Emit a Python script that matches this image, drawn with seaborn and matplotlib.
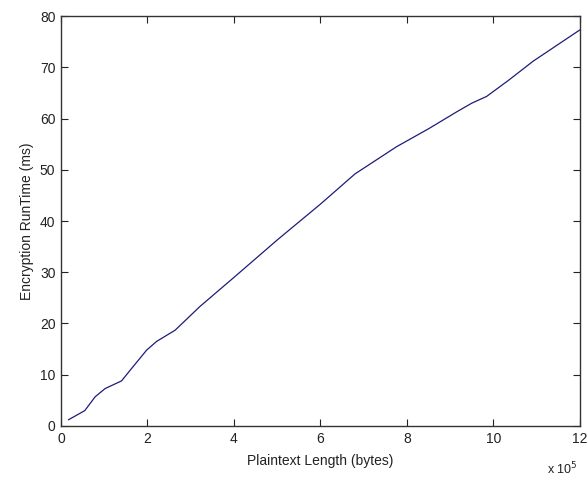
import pandas as pd
import matplotlib
matplotlib.use('Agg')
import matplotlib.pyplot as plt
import seaborn as sns

# valori (x in unita di 1e5 byte)
plaintext_len = [0.17, 0.55, 0.79, 1.02, 1.40, 1.63, 1.98, 2.21, 2.64, 3.21, 4.0, 5.0,
                 6.0, 6.8, 7.76, 8.5, 9.15, 9.5, 9.84, 10.34, 10.92, 12.0]
runtime_ms = [1.2, 3.0, 5.7, 7.3, 8.8, 11.2, 14.8, 16.5, 18.7, 23.3, 29.0, 36.3,
              43.3, 49.2, 54.5, 58.0, 61.3, 63.0, 64.3, 67.4, 71.2, 77.3]
x_ticks = [0, 2, 4, 6, 8, 10, 12]
y_ticks = [0, 10, 20, 30, 40, 50, 60, 70, 80]

data = pd.DataFrame({'length': plaintext_len, 'runtime': runtime_ms})

sns.set_style('ticks')
plt.rcParams['font.family'] = ['Liberation Sans', 'DejaVu Sans']

fig = plt.figure(figsize=(5.87, 4.78), dpi=100)
ax = fig.add_axes([0.1039, 0.1088, 0.8841, 0.8577])
sns.lineplot(data=data, x='length', y='runtime', color='#1c1c78', linewidth=0.9, ax=ax)

ax.set_xlim(0, 12)
ax.set_ylim(0, 80)
ax.set_xticks(x_ticks)
ax.set_yticks(y_ticks)
ax.tick_params(direction='in', top=True, right=True, length=5, width=0.8,
               labelsize=10, colors='#222222', pad=4)
for s in ax.spines.values():
    s.set_visible(True)
    s.set_linewidth(1.0)
    s.set_color('#333333')

ax.set_xlabel('Plaintext Length (bytes)', fontsize=10, color='#222222', labelpad=6)
ax.set_ylabel('Encryption RunTime (ms)', fontsize=10, color='#222222', labelpad=4)
ax.text(0.995, -0.085, 'x 10$^5$', transform=ax.transAxes, ha='right', va='top',
        fontsize=9, color='#222222')

fig.savefig('out.png', dpi=100, facecolor='white')
